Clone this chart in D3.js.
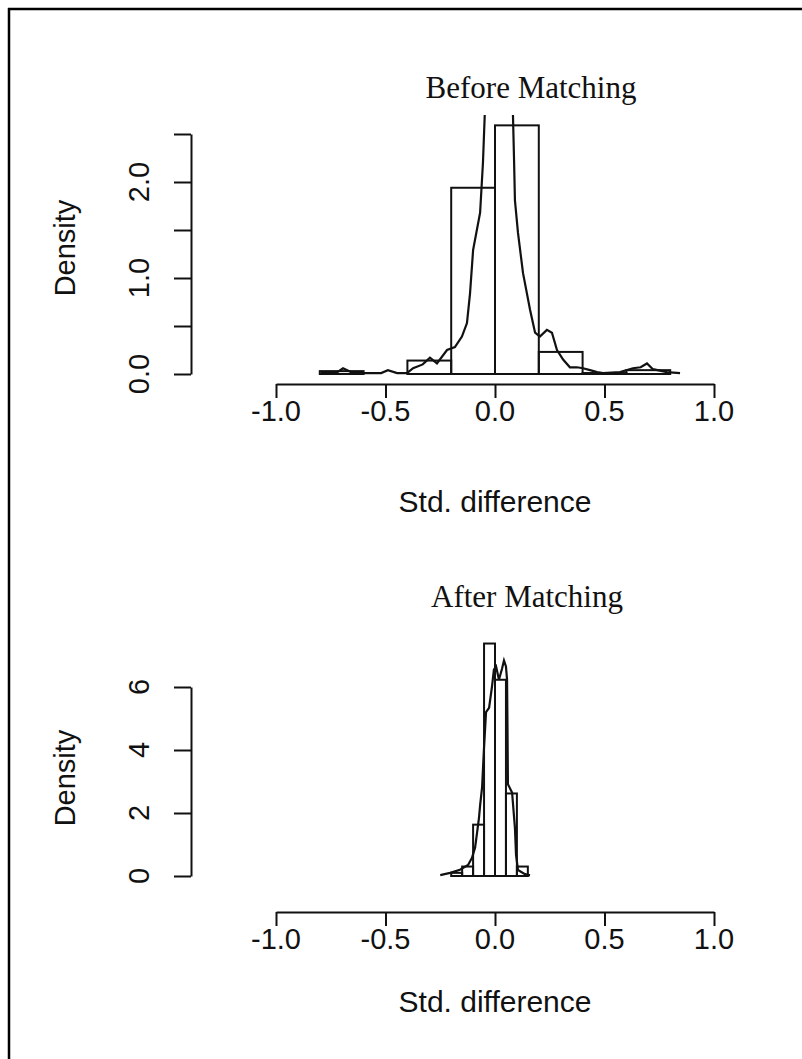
<!DOCTYPE html>
<html>
<head>
<meta charset="utf-8">
<script src="https://cdn.jsdelivr.net/npm/d3@7"></script>
<style>
  body { margin: 0; background: #fff; }
  svg { display: block; }
</style>
</head>
<body>
<svg id="chart" width="802" height="1059"></svg>
<script>
// ---------- DATA ----------
const beforeBinEdges = [-0.8, -0.6, -0.4, -0.2, 0.0, 0.2, 0.4, 0.6, 0.8];
const beforeBinDensity = [0.03, 0.00, 0.14, 1.94, 2.59, 0.23, 0.01, 0.04];
const beforeCurveX = [-0.795, -0.72, -0.694, -0.648, -0.584, -0.52, -0.489, -0.447, -0.402, -0.374, -0.33, -0.297, -0.265, -0.219, -0.183, -0.151, -0.128, -0.114, -0.100, -0.068, -0.055, -0.046, -0.03, 0.0, 0.03, 0.06, 0.082, 0.087, 0.091, 0.105, 0.128, 0.160, 0.183, 0.205, 0.237, 0.260, 0.283, 0.311, 0.342, 0.374, 0.402, 0.434, 0.466, 0.493, 0.571, 0.630, 0.665, 0.694, 0.721, 0.785, 0.845];
const beforeCurveY = [0.02, 0.02, 0.06, 0.01, 0.01, 0.01, 0.04, 0.01, 0.01, 0.06, 0.10, 0.17, 0.11, 0.25, 0.28, 0.39, 0.53, 0.84, 1.29, 1.68, 2.20, 2.75, 3.20, 3.40, 3.30, 3.00, 2.70, 2.23, 1.81, 1.47, 1.05, 0.67, 0.43, 0.39, 0.46, 0.43, 0.25, 0.15, 0.07, 0.07, 0.06, 0.04, 0.02, 0.01, 0.02, 0.06, 0.07, 0.11, 0.05, 0.02, 0.01];
const beforeYTicks = [0, 0.5, 1.0, 1.5, 2.0, 2.5];
const beforeYLabels = [0, 1.0, 2.0];

const afterBinEdges = [-0.2, -0.15, -0.1, -0.05, 0.0, 0.05, 0.1, 0.15];
const afterBinDensity = [0.1, 0.3, 1.63, 7.38, 6.23, 2.62, 0.3];
const afterCurveX = [-0.25, -0.205, -0.16, -0.123, -0.105, -0.091, -0.082, -0.073, -0.068, -0.059, -0.055, -0.05, -0.046, -0.041, -0.027, -0.014, -0.005, 0.005, 0.018, 0.032, 0.041, 0.05, 0.055, 0.057, 0.059, 0.078, 0.091, 0.096, 0.105, 0.137, 0.16];
const afterCurveY = [0.03, 0.10, 0.20, 0.35, 0.58, 0.90, 1.37, 1.85, 2.24, 2.81, 3.39, 4.10, 4.57, 5.20, 5.34, 6.00, 6.55, 6.65, 6.23, 6.58, 6.84, 6.65, 6.23, 4.73, 2.91, 2.65, 1.53, 0.67, 0.19, 0.06, 0.02];
const afterYTicks = [0, 2, 4, 6];
const afterYLabels = [0, 2, 4, 6];

const xTicks = [-1.0, -0.5, 0.0, 0.5, 1.0];

// ---------- DRAW ----------
const svg = d3.select("#chart");
const sans = "'Liberation Sans', Arial, sans-serif";
const serif = "'Liberation Serif', 'Times New Roman', serif";
const ink = "#111";

// frame
svg.append("line").attr("x1", 8).attr("x2", 802).attr("y1", 9).attr("y2", 9)
  .attr("stroke", "#000").attr("stroke-width", 2.5);
svg.append("line").attr("x1", 9).attr("x2", 9).attr("y1", 8).attr("y2", 1059)
  .attr("stroke", "#000").attr("stroke-width", 2.5);

function panel(cfg) {
  const x = d3.scaleLinear().domain([-1, 1]).range([276, 714]);
  const y = d3.scaleLinear().domain([0, cfg.yMaxTick]).range([cfg.y0, cfg.yTop]);
  const g = svg.append("g");
  const clipId = "clip" + cfg.id;
  svg.append("clipPath").attr("id", clipId).append("rect")
    .attr("x", 250).attr("y", cfg.clipTop).attr("width", 500).attr("height", cfg.y0 - cfg.clipTop + 8);

  // histogram
  const bins = cfg.density.map((d, i) => ({x0: cfg.edges[i], x1: cfg.edges[i + 1], d}));
  g.append("g").attr("clip-path", `url(#${clipId})`).selectAll("rect").data(bins).join("rect")
    .attr("x", b => x(b.x0)).attr("width", b => x(b.x1) - x(b.x0))
    .attr("y", b => y(b.d)).attr("height", b => y(0) - y(b.d))
    .attr("fill", "none").attr("stroke", ink).attr("stroke-width", 2);

  // density curve
  const pts = cfg.cx.map((v, i) => [v, cfg.cy[i]]);
  g.append("path").attr("clip-path", `url(#${clipId})`)
    .attr("d", d3.line().x(p => x(p[0])).y(p => y(p[1])).curve(d3.curveLinear)(pts))
    .attr("fill", "none").attr("stroke", ink).attr("stroke-width", 2.2);

  // x axis
  const xa = g.append("g").attr("transform", `translate(0,${cfg.xAxisY})`)
    .call(d3.axisBottom(x).tickValues(xTicks).tickSize(14).tickSizeOuter(0).tickFormat(""));
  xa.select(".domain").attr("stroke", ink).attr("stroke-width", 2);
  xa.selectAll(".tick line").attr("stroke", ink).attr("stroke-width", 2);
  g.selectAll(".xlab").data(xTicks).join("text")
    .attr("x", d => x(d)).attr("y", cfg.xAxisY + 37).attr("text-anchor", "middle")
    .attr("font-family", sans).attr("font-size", 29).attr("fill", ink)
    .text(d => d3.format(".1f")(d).replace("\u2212", "-"));

  // y axis
  const ya = g.append("g").attr("transform", `translate(191,0)`)
    .call(d3.axisLeft(y).tickValues(cfg.yTicks).tickSize(17).tickSizeOuter(0).tickFormat(""));
  ya.select(".domain").attr("stroke", ink).attr("stroke-width", 2);
  ya.selectAll(".tick line").attr("stroke", ink).attr("stroke-width", 2);
  g.selectAll(".ylab").data(cfg.yLabels).join("text")
    .attr("transform", d => `translate(149,${y(d)}) rotate(-90)`)
    .attr("text-anchor", "middle").attr("font-family", sans).attr("font-size", 29).attr("fill", ink)
    .text(d => cfg.yFmt(d));

  // labels
  g.append("text").attr("transform", `translate(75,${cfg.densityY}) rotate(-90)`)
    .attr("text-anchor", "middle").attr("font-family", sans).attr("font-size", 29).attr("fill", ink)
    .text("Density");
  g.append("text").attr("x", 495).attr("y", cfg.xLabY).attr("text-anchor", "middle")
    .attr("font-family", sans).attr("font-size", 30).attr("fill", ink).text("Std. difference");
  g.append("text").attr("x", cfg.titleX).attr("y", cfg.titleY).attr("text-anchor", "middle")
    .attr("font-family", serif).attr("font-size", 31).attr("fill", ink).text(cfg.title);
}

panel({id: 1, title: "Before Matching", titleX: 531, titleY: 98,
  edges: beforeBinEdges, density: beforeBinDensity, cx: beforeCurveX, cy: beforeCurveY,
  yMaxTick: 2.5, y0: 374, yTop: 134, clipTop: 115, yTicks: beforeYTicks, yLabels: beforeYLabels,
  yFmt: d3.format(".1f"), xAxisY: 384, xLabY: 512, densityY: 248});

panel({id: 2, title: "After Matching", titleX: 527, titleY: 607,
  edges: afterBinEdges, density: afterBinDensity, cx: afterCurveX, cy: afterCurveY,
  yMaxTick: 6, y0: 876, yTop: 687, clipTop: 630, yTicks: afterYTicks, yLabels: afterYLabels,
  yFmt: d3.format("d"), xAxisY: 912, xLabY: 1012, densityY: 778});
</script>
</body>
</html>
